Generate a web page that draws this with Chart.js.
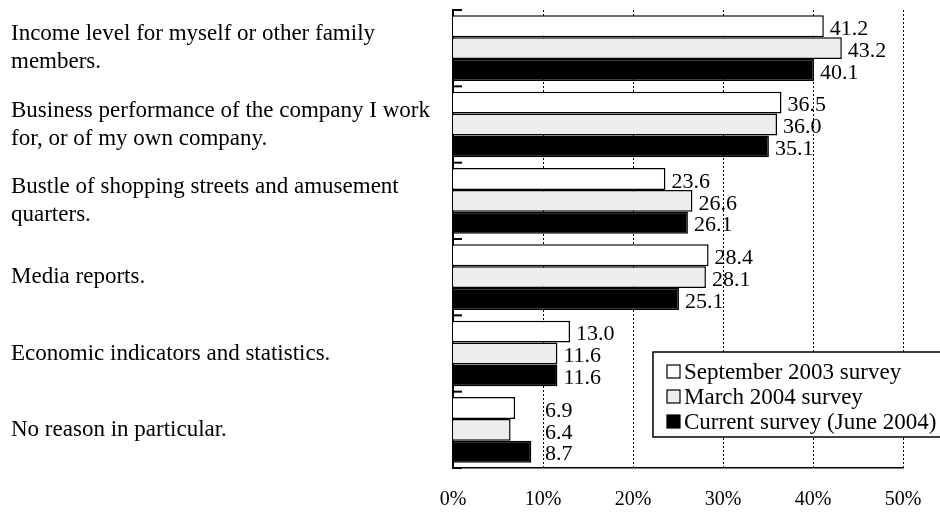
<!DOCTYPE html>
<html>
<head>
<meta charset="utf-8">
<script src="https://cdn.jsdelivr.net/npm/chart.js@4"></script>
<style>
  html, body { margin: 0; padding: 0; background: #fff; }
  #wrap { width: 940px; height: 515px; }
</style>
</head>
<body>
<div id="wrap"><canvas id="myChart"></canvas></div>
<script>
const categories = [
  ['Income level for myself or other family', 'members.'],
  ['Business performance of the company I work', 'for, or of my own company.'],
  ['Bustle of shopping streets and amusement', 'quarters.'],
  'Media reports.',
  'Economic indicators and statistics.',
  'No reason in particular.'
];
const seriesNames = ['September 2003 survey', 'March 2004 survey', 'Current survey (June 2004)'];
const sep2003 = [41.2, 36.5, 23.6, 28.4, 13.0, 6.9];
const mar2004 = [43.2, 36.0, 26.6, 28.1, 11.6, 6.4];
const jun2004 = [40.1, 35.1, 26.1, 25.1, 11.6, 8.7];
const xTicks = [0, 10, 20, 30, 40, 50];

const FONT = 'Liberation Serif, Times New Roman, serif';
const colors = ['#ffffff', '#ededed', '#000000'];

// dashed vertical grid + small ticks on the left axis
const gridPlugin = {
  id: 'grid',
  beforeDatasetsDraw(chart) {
    const {ctx, chartArea, scales} = chart;
    ctx.save();
    ctx.strokeStyle = '#000';
    ctx.lineWidth = 1;
    ctx.setLineDash([2, 2]);
    xTicks.slice(1).forEach(v => {
      const x = Math.round(scales.x.getPixelForValue(v)) + 0.5;
      ctx.beginPath();
      ctx.moveTo(x, chartArea.top);
      ctx.lineTo(x, chartArea.bottom);
      ctx.stroke();
    });
    ctx.setLineDash([]);
    ctx.lineWidth = 2;
    for (let i = 0; i <= categories.length; i++) {
      const y = scales.y.getPixelForValue(i - 0.5);
      ctx.beginPath();
      ctx.moveTo(chartArea.left, y);
      ctx.lineTo(chartArea.left + 9, y);
      ctx.stroke();
    }
    ctx.restore();
  },
  afterDatasetsDraw(chart) {
    const {ctx, scales} = chart;
    ctx.save();
    ctx.fillStyle = '#000';
    ctx.font = '22px ' + FONT;
    ctx.textBaseline = 'middle';
    ctx.textAlign = 'left';
    const minX = scales.x.getPixelForValue(10) + 2;
    chart.data.datasets.forEach((ds, di) => {
      chart.getDatasetMeta(di).data.forEach((bar, i) => {
        const x = Math.max(bar.x + 6, minX);
        ctx.fillText(ds.data[i].toFixed(1), x, bar.y + 3);
      });
    });

    // legend box
    const bx = 653, by = 352, bw = 300, bh = 85;
    ctx.fillStyle = '#fff';
    ctx.fillRect(bx, by, bw, bh);
    ctx.strokeStyle = '#000';
    ctx.lineWidth = 1.5;
    ctx.strokeRect(bx, by, bw, bh);
    ctx.font = '23px ' + FONT;
    chart.data.datasets.forEach((ds, di) => {
      const cy = by + 20 + di * 25;
      ctx.fillStyle = ds.backgroundColor;
      ctx.fillRect(667, cy - 7, 13, 13);
      ctx.lineWidth = 1.2;
      ctx.strokeRect(667, cy - 7, 13, 13);
      ctx.fillStyle = '#000';
      ctx.fillText(ds.label, 684, cy + 1);
    });
    ctx.restore();
  }
};

const ctx1 = document.getElementById('myChart');
new Chart(ctx1, {
  type: 'bar',
  data: {
    labels: categories,
    datasets: [sep2003, mar2004, jun2004].map((d, i) => ({
      label: seriesNames[i],
      data: d,
      backgroundColor: colors[i],
      borderColor: '#000',
      borderWidth: 1.5,
      categoryPercentage: 0.86,
      barPercentage: 1
    }))
  },
  options: {
    indexAxis: 'y',
    responsive: true,
    maintainAspectRatio: false,
    animation: false,
    layout: { padding: { left: 11, right: 37, top: 10, bottom: 0 } },
    plugins: {
      legend: { display: false },
      tooltip: { enabled: false },
      title: { display: false }
    },
    scales: {
      x: {
        min: 0,
        max: 50,
        afterFit(scale) {
          scale.height = 47;
          scale.paddingLeft = 0;
          scale.paddingRight = 0;
        },
        afterBuildTicks(scale) { scale.ticks = xTicks.map(v => ({ value: v })); },
        grid: { display: false },
        border: { display: true, color: '#000', width: 1.5 },
        ticks: {
          padding: 12,
          color: '#000',
          font: { family: FONT, size: 20 },
          callback: v => v + '%'
        }
      },
      y: {
        afterFit(scale) {
          scale.width = 442;
          scale.paddingTop = 0;
          scale.paddingBottom = 0;
        },
        grid: { display: false },
        border: { display: true, color: '#000', width: 2 },
        ticks: {
          crossAlign: 'far',
          color: '#000',
          font: { family: FONT, size: 23, lineHeight: 1.22 }
        }
      }
    }
  },
  plugins: [gridPlugin]
});
</script>
</body>
</html>
